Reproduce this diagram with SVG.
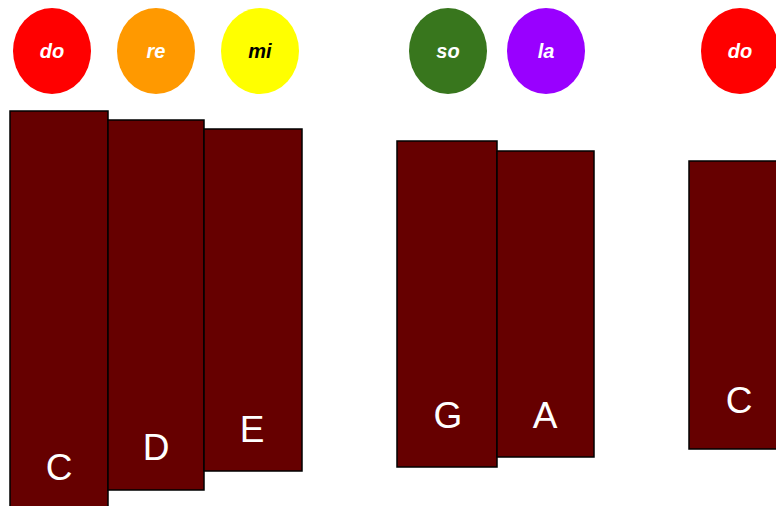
<svg xmlns="http://www.w3.org/2000/svg" width="776" height="506" viewBox="0 0 776 506">
<style>
.bar{fill:#660000;stroke:#000;stroke-width:1.5}
.bl{font-family:"Liberation Sans",Arial,sans-serif;font-size:37px;fill:#fff;text-anchor:middle}
.sl{font-family:"Liberation Sans",Arial,sans-serif;font-size:20px;font-weight:bold;font-style:italic;fill:#fff;text-anchor:middle}
</style>
<rect width="776" height="506" fill="#fff"/>
<g id="syllables">
<g id="s-do1"><ellipse cx="52" cy="51" rx="39" ry="43" fill="#ff0000"/><text class="sl" x="52" y="58">do</text></g>
<g id="s-re"><ellipse cx="156" cy="51" rx="39" ry="43" fill="#ff9900"/><text class="sl" x="156" y="58">re</text></g>
<g id="s-mi"><ellipse cx="260" cy="51" rx="39" ry="43" fill="#ffff00"/><text class="sl" x="260" y="58" style="fill:#000">mi</text></g>
<g id="s-so"><ellipse cx="448" cy="51" rx="39" ry="43" fill="#38761d"/><text class="sl" x="448" y="58">so</text></g>
<g id="s-la"><ellipse cx="546" cy="51" rx="39" ry="43" fill="#9900ff"/><text class="sl" x="546" y="58">la</text></g>
<g id="s-do2"><ellipse cx="740" cy="51" rx="39" ry="43" fill="#ff0000"/><text class="sl" x="740" y="58">do</text></g>
</g>
<g id="bars">
<g id="bar-C"><rect class="bar" x="10" y="111" width="98" height="400"/><text class="bl" x="59" y="480">C</text></g>
<g id="bar-D"><rect class="bar" x="108" y="120" width="96" height="370"/><text class="bl" x="156" y="460">D</text></g>
<g id="bar-E"><rect class="bar" x="204" y="129" width="98" height="342"/><text class="bl" x="252" y="442">E</text></g>
<g id="bar-G"><rect class="bar" x="397" y="141" width="100" height="326"/><text class="bl" x="448" y="428">G</text></g>
<g id="bar-A"><rect class="bar" x="497" y="151" width="97" height="306"/><text class="bl" x="545" y="428">A</text></g>
<g id="bar-C2"><rect class="bar" x="689" y="161" width="100" height="288"/><text class="bl" x="739" y="413">C</text></g>
</g>
<g id="connectors"/>
</svg>
